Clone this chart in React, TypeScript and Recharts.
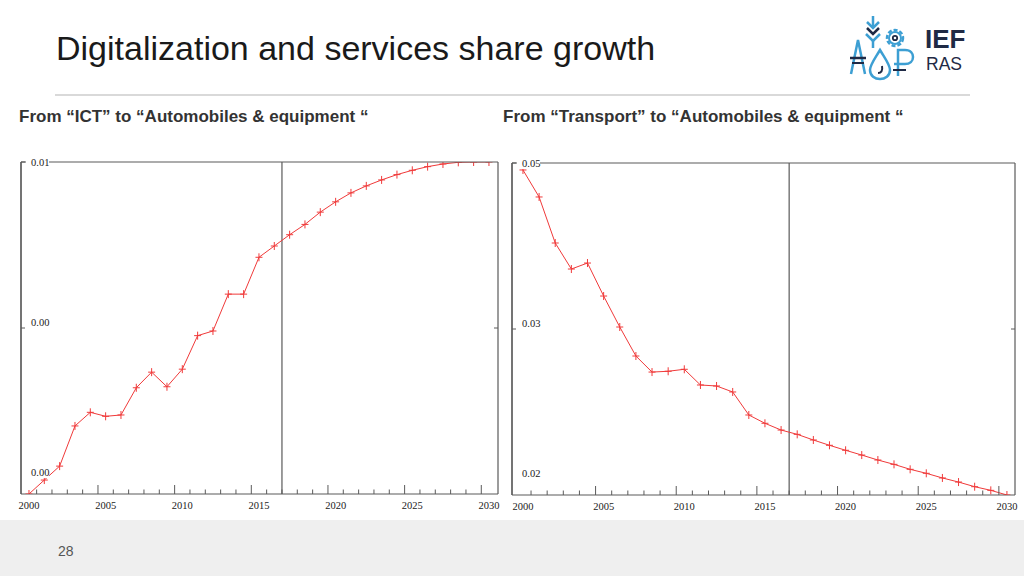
import React from 'react';
import { LineChart, Line, XAxis, YAxis, ReferenceLine } from 'recharts';

const years = [
  2000, 2001, 2002, 2003, 2004, 2005, 2006, 2007, 2008, 2009, 2010,
  2011, 2012, 2013, 2014, 2015, 2016, 2017, 2018, 2019, 2020,
  2021, 2022, 2023, 2024, 2025, 2026, 2027, 2028, 2029, 2030,
];

// From "ICT" to "Automobiles & equipment"
const ictToAuto = [
  0.0, 0.00042, 0.00084, 0.00205, 0.00246, 0.00234, 0.00238, 0.0032, 0.00367, 0.00323, 0.00376,
  0.00477, 0.00491, 0.00602, 0.00602, 0.00713, 0.00747, 0.00781, 0.00812, 0.00849, 0.0088,
  0.00907, 0.00928, 0.00946, 0.00962, 0.00975, 0.00986, 0.00994, 0.00999, 0.01, 0.01,
];

// From "Transport" to "Automobiles & equipment"
const transportToAuto = [
  0.04937, 0.04693, 0.04277, 0.04042, 0.04096, 0.03798, 0.03518, 0.03256, 0.03111, 0.03118, 0.03136,
  0.02994, 0.02985, 0.02931, 0.02723, 0.02648, 0.02587, 0.02548, 0.02497, 0.02449, 0.02404,
  0.02361, 0.02316, 0.02277, 0.02232, 0.02196, 0.02154, 0.02117, 0.02075, 0.02042, 0.02,
];

const leftYTicks = [0, 0.005, 0.01];
const leftYTickLabels = ['0.00', '0.00', '0.01'];
const rightYTicks = [0.02, 0.035, 0.05];
const rightYTickLabels = ['0.02', '0.03', '0.05'];
const forecastStart = 2016.5;

const leftData = years.map((y, i) => ({ year: y, v: ictToAuto[i] }));
const rightData = years.map((y, i) => ({ year: y, v: transportToAuto[i] }));

const FRAME = '#5a5a5a';
const RED = '#f03a3a';
const TICK_FONT = '"Liberation Serif", "DejaVu Serif", serif';

type PanelProps = {
  data: { year: number; v: number }[];
  width: number;
  height: number;
  margin: { top: number; right: number; bottom: number; left: number };
  xAxisHeight: number;
  xDomain: [number, number];
  yDomain: [number, number];
  yTicks: number[];
  yLabels: string[];
};

const PlusDot = (props: any) => {
  const { cx, cy, index } = props;
  if (cx == null || cy == null) return <g key={`d${index}`} />;
  return (
    <g key={`d${index}`}>
      <line x1={cx - 3.5} x2={cx + 3.5} y1={cy} y2={cy} stroke={RED} strokeWidth={1} />
      <line x1={cx} x2={cx} y1={cy - 4} y2={cy + 4} stroke={RED} strokeWidth={1} />
    </g>
  );
};

function Panel({ data, width, height, margin, xAxisHeight, xDomain, yDomain, yTicks, yLabels }: PanelProps) {
  const plotW = width - margin.left - margin.right;
  const pxPerYear = plotW / (xDomain[1] - xDomain[0]);
  const half = pxPerYear / 2;

  const xTick = (p: any) => {
    const { x, y, payload } = p;
    const yr = payload.value as number;
    const major = yr % 5 === 4;
    return (
      <g>
        {yr < 2030 && (
          <line
            x1={x + half}
            x2={x + half}
            y1={y}
            y2={y - (major ? 9 : 4.5)}
            stroke={FRAME}
            strokeWidth={1}
          />
        )}
        {yr % 5 === 0 && (
          <text
            x={x}
            y={y + 15}
            textAnchor="middle"
            fontFamily={TICK_FONT}
            fontSize={10.5}
            fill="#222"
          >
            {yr}
          </text>
        )}
      </g>
    );
  };

  const yTick = (p: any) => {
    const { y, payload } = p;
    const x = margin.left;
    const i = yTicks.indexOf(payload.value);
    const isTop = i === yTicks.length - 1;
    const isBottom = i === 0;
    const dy = isTop ? 0 : isBottom ? -22 : -6;
    return (
      <g>
        {isTop && <line x1={x} x2={x + plotW} y1={y} y2={y} stroke={FRAME} strokeWidth={1.2} />}
        {!isBottom && <line x1={x} x2={x + 4} y1={y} y2={y} stroke={FRAME} strokeWidth={1} />}
        {!isBottom && !isTop && (
          <line x1={x + plotW - 4} x2={x + plotW} y1={y} y2={y} stroke={FRAME} strokeWidth={1} />
        )}
        <rect x={x + 5} y={y + dy - 6} width={23} height={12} fill="#fff" />
        <text
          x={x + 10}
          y={y + dy}
          dy="0.35em"
          textAnchor="start"
          fontFamily={TICK_FONT}
          fontSize={10.5}
          fill="#222"
        >
          {yLabels[i]}
        </text>
      </g>
    );
  };

  return (
    <LineChart width={width} height={height} data={data} margin={margin}>
      <XAxis
        dataKey="year"
        type="number"
        domain={xDomain}
        allowDataOverflow
        ticks={years}
        interval={0}
        height={xAxisHeight}
        tickSize={0}
        tickMargin={0}
        tickLine={false}
        axisLine={{ stroke: FRAME, strokeWidth: 1.2 }}
        tick={xTick}
      />
      <YAxis
        type="number"
        domain={yDomain}
        allowDataOverflow
        ticks={yTicks}
        interval={0}
        mirror
        tickSize={0}
        tickMargin={0}
        tickLine={false}
        axisLine={{ stroke: FRAME, strokeWidth: 1.2 }}
        tick={yTick}
      />
      <ReferenceLine x={xDomain[0]} stroke={FRAME} strokeWidth={1.2} ifOverflow="visible" />
      <ReferenceLine x={xDomain[1]} stroke={FRAME} strokeWidth={1.2} ifOverflow="visible" />
      <ReferenceLine x={forecastStart} stroke={FRAME} strokeWidth={1.2} />
      <Line
        type="linear"
        dataKey="v"
        stroke={RED}
        strokeWidth={1}
        dot={PlusDot}
        activeDot={false}
        isAnimationActive={false}
      />
    </LineChart>
  );
}

function Logo() {
  const blue = '#3d9fd3';
  const navy = '#1f2a45';
  return (
    <svg width={90} height={70} style={{ position: 'absolute', left: 838, top: 14 }}>
      <line x1={35} x2={35} y1={2} y2={12} stroke={blue} strokeWidth={2.5} />
      <polyline points="29,8 35,14 41,8" fill="none" stroke={blue} strokeWidth={2.5} />
      <polyline points="29,14 35,20 41,14" fill="none" stroke={navy} strokeWidth={2.5} />
      <polyline points="28,20 35,27 42,20" fill="none" stroke={blue} strokeWidth={2.5} />
      <line x1={35} x2={35} y1={27} y2={34} stroke={blue} strokeWidth={2.5} />
      <circle cx={57} cy={24} r={8} fill="none" stroke={blue} strokeWidth={2.5} strokeDasharray="4 2" />
      <circle cx={57} cy={24} r={6} fill="none" stroke={blue} strokeWidth={2} />
      <circle cx={57} cy={24} r={2.2} fill="none" stroke={navy} strokeWidth={1.8} />
      <polyline points="13,60 20,26 27,60" fill="none" stroke={blue} strokeWidth={2.5} />
      <line x1={12} x2={28} y1={44} y2={44} stroke={navy} strokeWidth={2.5} />
      <line x1={14} x2={26} y1={49} y2={49} stroke={navy} strokeWidth={2} />
      <path
        d="M42,36 C36,46 32,51 32,56 C32,62 37,65 42,65 C47,65 52,62 52,56 C52,51 48,46 42,36 Z"
        fill="none"
        stroke={blue}
        strokeWidth={2.5}
      />
      <path d="M44,52 C45,57 43,59 40,59" fill="none" stroke={navy} strokeWidth={2} />
      <path d="M60,62 L60,36 L67,36 C73,36 75,40 75,43 C75,47 72,50 67,50 L56,50" fill="none" stroke={blue} strokeWidth={2.5} />
      <line x1={55} x2={68} y1={56} y2={56} stroke={navy} strokeWidth={2} />
    </svg>
  );
}

export default function App() {
  return (
    <div
      style={{
        position: 'absolute',
        left: 0,
        top: 0,
        width: 1024,
        height: 576,
        background: '#fff',
        overflow: 'hidden',
        fontFamily: '"Liberation Sans", Arial, sans-serif',
      }}
    >
      <div
        style={{
          position: 'absolute',
          left: 56,
          top: 28,
          fontSize: 34,
          color: '#1a1a1a',
          lineHeight: '40px',
          whiteSpace: 'nowrap',
        }}
      >
        Digitalization and services share growth
      </div>
      <Logo />
      <div
        style={{
          position: 'absolute',
          left: 925,
          top: 24,
          fontSize: 26,
          fontWeight: 700,
          color: '#1f2a45',
          lineHeight: '30px',
        }}
      >
        IEF
      </div>
      <div
        style={{
          position: 'absolute',
          left: 926,
          top: 54,
          fontSize: 17.5,
          color: '#1f2a45',
          lineHeight: '20px',
        }}
      >
        RAS
      </div>
      <div
        style={{
          position: 'absolute',
          left: 55,
          top: 94,
          width: 915,
          height: 2,
          background: '#d9d9d9',
        }}
      />
      <div
        style={{
          position: 'absolute',
          left: 19,
          top: 106,
          fontSize: 17,
          fontWeight: 700,
          color: '#333',
          lineHeight: '22px',
          whiteSpace: 'nowrap',
        }}
      >
        From “ICT” to “Automobiles &amp; equipment “
      </div>
      <div
        style={{
          position: 'absolute',
          left: 503,
          top: 106,
          fontSize: 17,
          fontWeight: 700,
          color: '#333',
          lineHeight: '22px',
          whiteSpace: 'nowrap',
        }}
      >
        From “Transport” to “Automobiles &amp; equipment “
      </div>

      <div style={{ position: 'absolute', left: 0, top: 150 }}>
        <Panel
          data={leftData}
          width={520}
          height={370}
          margin={{ top: 12, right: 22, bottom: 0, left: 21 }}
          xAxisHeight={26}
          xDomain={[1999.48, 2030.59]}
          yDomain={[0, 0.01]}
          yTicks={leftYTicks}
          yLabels={leftYTickLabels}
        />
      </div>
      <div style={{ position: 'absolute', left: 500, top: 150 }}>
        <Panel
          data={rightData}
          width={524}
          height={370}
          margin={{ top: 13, right: 9, bottom: 0, left: 12 }}
          xAxisHeight={25}
          xDomain={[1999.32, 2030.5]}
          yDomain={[0.02, 0.05]}
          yTicks={rightYTicks}
          yLabels={rightYTickLabels}
        />
      </div>

      <div
        style={{
          position: 'absolute',
          left: 0,
          top: 520,
          width: 1024,
          height: 56,
          background: '#efefef',
        }}
      />
      <div
        style={{
          position: 'absolute',
          left: 58,
          top: 541,
          fontSize: 14,
          color: '#555',
          lineHeight: '20px',
        }}
      >
        28
      </div>
    </div>
  );
}
